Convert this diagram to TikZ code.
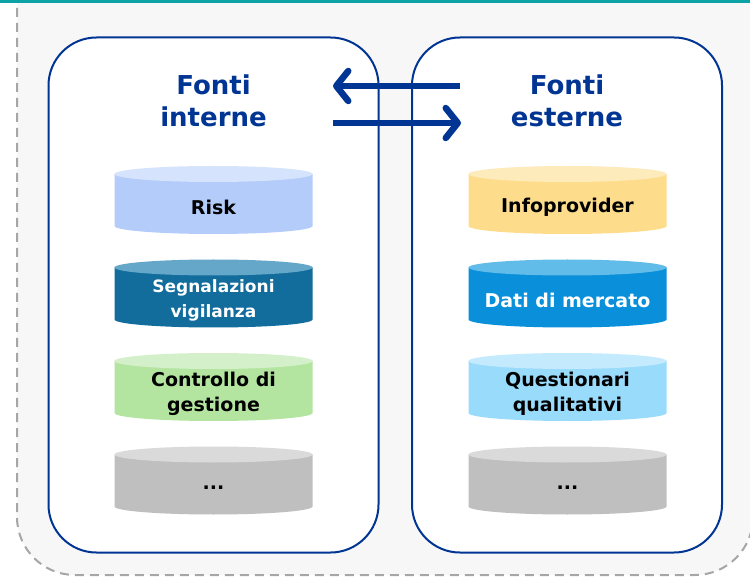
\documentclass[tikz,border=0pt]{standalone}
\usepackage{fontspec}
\setmainfont{DejaVu Sans}
\usepackage{tikz}
\usetikzlibrary{arrows.meta}

\definecolor{navy}{HTML}{003594}
\definecolor{tealbar}{HTML}{0BA3A3}
\definecolor{panel}{HTML}{F7F7F7}
\definecolor{dashgray}{HTML}{A6A6A6}
\definecolor{riskBody}{HTML}{B4CCFA}
\definecolor{riskLid}{HTML}{D6E3FC}
\definecolor{segnBody}{HTML}{126C9C}
\definecolor{segnLid}{HTML}{64A7C8}
\definecolor{cdgBody}{HTML}{B3E5A0}
\definecolor{cdgLid}{HTML}{D4F0CA}
\definecolor{restBody}{HTML}{BFBFBF}
\definecolor{restLid}{HTML}{DADADA}
\definecolor{infoBody}{HTML}{FDDD8C}
\definecolor{infoLid}{HTML}{FEEBBB}
\definecolor{mktBody}{HTML}{0A8FDB}
\definecolor{mktLid}{HTML}{62BCE9}
\definecolor{questBody}{HTML}{99DBFB}
\definecolor{questLid}{HTML}{C3EAFD}

\tikzset{
  sourcebox/.style={draw=navy, line width=2pt, fill=white, rounded corners=48pt,
    minimum width=330pt, minimum height=515pt},
  title/.style={text=navy, font=\bfseries\fontsize{26}{32}\selectfont, align=center},
  dblabel/.style={font=\bfseries\fontsize{19}{25}\selectfont, align=center},
  flow/.style={navy, line width=6.5pt, -{Straight Barb[length=12pt,width=30pt,round]}}
}

% database cylinder: name, x, top y, body, lid, text colour, text
\newcommand{\dbcyl}[7]{%
  \fill[#4] (#2-99,#3+8) -- (#2-99,#3+60)
    arc[start angle=180, end angle=360, x radius=99pt, y radius=8pt]
    -- (#2+99,#3+8) -- cycle;
  \fill[#5] (#2,#3+8) ellipse[x radius=99pt, y radius=8pt];
  \node[dblabel, text=#6] (#1) at (#2,#3+41) {#7};
}

\begin{document}
\begin{tikzpicture}[x=1pt, y=-1pt]
  \useasboundingbox (0,0) rectangle (750,577);

  % panel
  \draw[fill=panel, draw=dashgray, line width=2pt, dash pattern=on 9pt off 6pt,
    rounded corners=58pt] (17,-80) rectangle (753,575);
  \fill[tealbar] (0,0) rectangle (750,3.5);

  % the two groups
  \node[sourcebox] (interne) at (213.5,295) {};
  \node[sourcebox, minimum width=310pt] (esterne) at (567,295) {};

  \node[title] (tInt) at (213.5,101) {Fonti\\interne};
  \node[title] (tExt) at (567,101) {Fonti\\esterne};

  \dbcyl{risk}{213.5}{166}{riskBody}{riskLid}{black}{Risk}
  \dbcyl{segn}{213.5}{259.5}{segnBody}{segnLid}{white}{\fontsize{17}{23}\selectfont Segnalazioni\\\fontsize{17}{23}\selectfont vigilanza}
  \dbcyl{cdg}{213.5}{353}{cdgBody}{cdgLid}{black}{Controllo di\\gestione}
  \dbcyl{altriI}{213.5}{446.5}{restBody}{restLid}{black}{...}

  \dbcyl{info}{567.5}{166}{infoBody}{infoLid}{black}{Infoprovider}
  \dbcyl{mkt}{567.5}{259.5}{mktBody}{mktLid}{white}{Dati di mercato}
  \dbcyl{quest}{567.5}{353}{questBody}{questLid}{black}{Questionari\\qualitativi}
  \dbcyl{altriE}{567.5}{446.5}{restBody}{restLid}{black}{...}

  % exchanges
  \coordinate (eFrom) at (460,86);
  \coordinate (iTo) at (333,86);
  \coordinate (iFrom) at (333,123);
  \coordinate (eTo) at (461,123);
  \draw[flow] (eFrom) -- (iTo);
  \draw[flow] (iFrom) -- (eTo);
\end{tikzpicture}
\end{document}
